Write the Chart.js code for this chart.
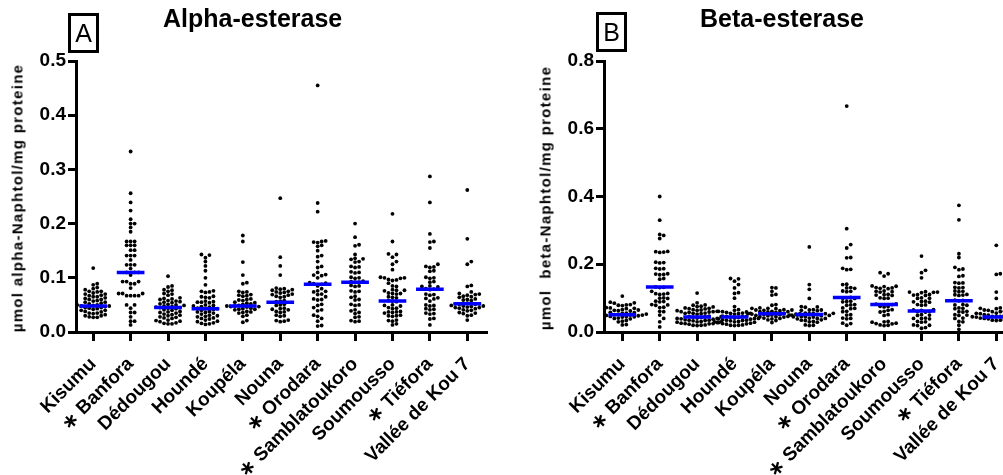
<!DOCTYPE html>
<html>
<head>
<meta charset="utf-8">
<script src="https://cdn.jsdelivr.net/npm/chart.js@4.4.1/dist/chart.umd.min.js"></script>
<style>
  body { margin: 0; background: #fff; overflow: hidden; width: 1003px; height: 475px; position: relative;
         font-family: 'Liberation Sans', Arial, Helvetica, sans-serif; color: #000; }
  .panel { position: absolute; top: 0; height: 475px; overflow: hidden; }
  .title { position: absolute; top: 6px; font-weight: bold; font-size: 25px; line-height: 25px; white-space: nowrap; }
  .tag { position: absolute; box-sizing: border-box; width: 31px; height: 40px; border: 3px solid #000;
         font-size: 25px; line-height: 34px; text-align: center; }
  .ytitle { position: absolute; transform: translate(-50%, -50%) rotate(-90deg); white-space: pre;
            font-weight: bold; font-size: 15px; letter-spacing: 1.3px; }
</style>
</head>
<body>
<div class="panel" style="left:0;width:500px"><canvas id="alpha" width="500" height="475"></canvas></div>
<div class="panel" style="left:500px;width:503px"><canvas id="beta" width="540" height="475"></canvas></div>
<div class="title" style="left:163px">Alpha-esterase</div>
<div class="title" style="left:700px">Beta-esterase</div>
<div class="tag" style="left:68px;top:13px">A</div>
<div class="tag" style="left:596px;top:12px">B</div>
<div class="ytitle" style="left:17px;top:198px">µmol alpha-Naphtol/mg proteine</div>
<div class="ytitle" style="left:545px;top:198px">µmol  beta-Naphtol/mg proteine</div>
<script>
// categories (asterisk = significant vs Kisumu)
const categories = ['Kisumu', '∗ Banfora', 'Dédougou', 'Houndé', 'Koupéla', 'Nouna',
  '∗ Orodara', '∗ Samblatoukoro', 'Soumousso', '∗ Tiéfora', 'Vallée de Kou 7'];

// median lines
const alphaMedians = [0.048, 0.110, 0.045, 0.043, 0.048, 0.055, 0.088, 0.092, 0.057, 0.079, 0.052];
const betaMedians = [0.051, 0.133, 0.044, 0.044, 0.054, 0.052, 0.102, 0.081, 0.062, 0.092, 0.044];

// Alpha-esterase, one array per population
const alphaKisumu = [0.118,0.089,0.087,0.082,0.080,0.078,0.075,0.075,0.074,0.072,0.070,0.070,0.068,0.067,0.065,0.065,0.063,0.062,0.060,0.060,0.058,0.057,0.055,0.055,0.053,0.052,0.050,0.050,0.049,0.048,0.048,0.047,0.045,0.045,0.044,0.043,0.042,0.040,0.040,0.038,0.037,0.035,0.035,0.034,0.032,0.030,0.030,0.028,0.027,0.027];
const alphaBanfora = [0.333,0.256,0.239,0.224,0.208,0.200,0.200,0.193,0.185,0.167,0.167,0.167,0.160,0.160,0.160,0.151,0.151,0.141,0.141,0.141,0.133,0.124,0.124,0.124,0.117,0.110,0.110,0.110,0.105,0.093,0.093,0.093,0.089,0.089,0.081,0.071,0.071,0.071,0.067,0.067,0.067,0.067,0.050,0.050,0.044,0.036,0.036,0.028,0.020,0.020,0.013];
const alphaDedougou = [0.103,0.085,0.083,0.078,0.077,0.075,0.071,0.070,0.068,0.063,0.062,0.061,0.060,0.058,0.057,0.056,0.055,0.054,0.052,0.051,0.050,0.049,0.048,0.047,0.046,0.045,0.045,0.044,0.043,0.041,0.040,0.038,0.037,0.036,0.035,0.033,0.032,0.031,0.030,0.028,0.027,0.026,0.025,0.022,0.021,0.020,0.019,0.017,0.016,0.015,0.015];
const alphaHounde = [0.143,0.142,0.137,0.130,0.122,0.113,0.100,0.087,0.076,0.075,0.074,0.073,0.066,0.065,0.064,0.063,0.057,0.056,0.055,0.055,0.054,0.050,0.049,0.048,0.047,0.046,0.044,0.043,0.043,0.042,0.040,0.038,0.037,0.036,0.035,0.033,0.031,0.030,0.029,0.028,0.026,0.025,0.024,0.022,0.020,0.019,0.017,0.016,0.015,0.014];
const alphaKoupela = [0.178,0.167,0.129,0.105,0.091,0.089,0.075,0.074,0.073,0.069,0.068,0.067,0.066,0.061,0.060,0.059,0.058,0.055,0.054,0.053,0.052,0.051,0.049,0.048,0.048,0.047,0.047,0.046,0.044,0.043,0.042,0.042,0.041,0.038,0.037,0.036,0.035,0.031,0.029,0.021,0.018];
const alphaNouna = [0.247,0.138,0.122,0.105,0.081,0.080,0.079,0.078,0.077,0.075,0.074,0.073,0.072,0.070,0.069,0.068,0.066,0.065,0.064,0.058,0.057,0.056,0.051,0.050,0.049,0.044,0.043,0.042,0.041,0.038,0.037,0.036,0.031,0.030,0.029,0.022,0.021,0.020,0.019];
const alphaOrodara = [0.455,0.238,0.222,0.168,0.167,0.166,0.165,0.160,0.158,0.150,0.141,0.139,0.130,0.121,0.119,0.110,0.106,0.105,0.104,0.100,0.091,0.090,0.089,0.088,0.085,0.080,0.076,0.075,0.074,0.070,0.069,0.065,0.061,0.060,0.059,0.051,0.049,0.045,0.041,0.039,0.031,0.029,0.025,0.020,0.012,0.011];
const alphaSambla = [0.200,0.175,0.161,0.159,0.143,0.136,0.135,0.134,0.130,0.129,0.121,0.120,0.119,0.111,0.110,0.109,0.101,0.100,0.099,0.094,0.093,0.092,0.092,0.086,0.085,0.084,0.076,0.075,0.074,0.066,0.064,0.060,0.059,0.051,0.050,0.049,0.041,0.039,0.036,0.034,0.028,0.027,0.021,0.020,0.019];
const alphaSoumousso = [0.218,0.167,0.144,0.143,0.138,0.130,0.125,0.115,0.101,0.100,0.100,0.099,0.097,0.096,0.095,0.090,0.085,0.084,0.078,0.077,0.077,0.076,0.072,0.071,0.071,0.070,0.065,0.064,0.063,0.058,0.057,0.056,0.050,0.049,0.048,0.045,0.044,0.043,0.038,0.037,0.037,0.036,0.035,0.031,0.030,0.030,0.029,0.022,0.021,0.020,0.015,0.013];
const alphaTiefora = [0.287,0.239,0.181,0.167,0.166,0.155,0.125,0.121,0.120,0.119,0.113,0.112,0.101,0.100,0.099,0.093,0.092,0.085,0.084,0.083,0.080,0.079,0.078,0.070,0.069,0.068,0.063,0.062,0.061,0.057,0.050,0.049,0.048,0.043,0.042,0.041,0.035,0.034,0.033,0.025,0.024,0.013];
const alphaVallee = [0.262,0.172,0.130,0.125,0.086,0.084,0.074,0.071,0.070,0.069,0.068,0.066,0.065,0.064,0.061,0.060,0.059,0.058,0.053,0.052,0.052,0.051,0.051,0.049,0.048,0.048,0.047,0.046,0.045,0.045,0.044,0.043,0.041,0.040,0.039,0.036,0.035,0.034,0.031,0.030,0.022];

// Beta-esterase
const betaKisumu = [0.106,0.088,0.086,0.085,0.081,0.080,0.079,0.078,0.072,0.071,0.070,0.069,0.066,0.065,0.064,0.063,0.062,0.058,0.057,0.056,0.055,0.054,0.053,0.052,0.052,0.051,0.050,0.050,0.049,0.048,0.046,0.045,0.045,0.044,0.041,0.040,0.039,0.034,0.032,0.030,0.022,0.021];
const betaBanfora = [0.400,0.330,0.288,0.285,0.276,0.238,0.237,0.236,0.235,0.206,0.205,0.204,0.188,0.187,0.186,0.172,0.171,0.170,0.169,0.158,0.156,0.133,0.132,0.131,0.120,0.114,0.113,0.112,0.111,0.101,0.100,0.099,0.091,0.090,0.089,0.081,0.080,0.079,0.073,0.072,0.061,0.060,0.050,0.040,0.030,0.015];
const betaDedougou = [0.115,0.086,0.080,0.079,0.076,0.075,0.074,0.071,0.070,0.069,0.068,0.066,0.065,0.064,0.063,0.061,0.060,0.060,0.059,0.058,0.056,0.055,0.055,0.054,0.053,0.047,0.046,0.045,0.045,0.044,0.043,0.041,0.040,0.040,0.039,0.038,0.036,0.035,0.035,0.034,0.033,0.031,0.030,0.030,0.029,0.028,0.026,0.025,0.025,0.024,0.023,0.021,0.020,0.020,0.019];
const betaHounde = [0.158,0.157,0.150,0.140,0.130,0.116,0.114,0.100,0.075,0.066,0.064,0.061,0.060,0.059,0.058,0.056,0.055,0.055,0.054,0.053,0.047,0.046,0.046,0.045,0.044,0.043,0.041,0.040,0.040,0.039,0.038,0.036,0.035,0.035,0.034,0.033,0.031,0.030,0.030,0.029,0.028,0.026,0.025,0.024,0.023,0.021,0.020,0.020,0.019];
const betaKoupela = [0.131,0.130,0.120,0.111,0.109,0.081,0.079,0.071,0.070,0.070,0.069,0.066,0.065,0.065,0.064,0.063,0.061,0.060,0.060,0.059,0.058,0.055,0.054,0.054,0.053,0.053,0.052,0.051,0.050,0.050,0.049,0.048,0.046,0.045,0.045,0.044,0.041,0.040,0.039,0.036,0.034,0.028];
const betaNouna = [0.251,0.140,0.126,0.099,0.075,0.074,0.073,0.066,0.065,0.065,0.064,0.063,0.056,0.055,0.055,0.054,0.054,0.051,0.050,0.050,0.049,0.048,0.046,0.045,0.045,0.044,0.041,0.040,0.040,0.039,0.036,0.035,0.034,0.031,0.030,0.029,0.021,0.020,0.019];
const betaOrodara = [0.667,0.305,0.258,0.248,0.220,0.219,0.188,0.185,0.184,0.141,0.140,0.131,0.130,0.129,0.121,0.120,0.119,0.102,0.101,0.100,0.099,0.091,0.090,0.089,0.081,0.080,0.079,0.071,0.070,0.069,0.061,0.060,0.051,0.050,0.041,0.040,0.039,0.026,0.025,0.020];
const betaSambla = [0.175,0.172,0.165,0.136,0.135,0.134,0.131,0.130,0.129,0.128,0.121,0.120,0.119,0.118,0.111,0.110,0.109,0.108,0.101,0.100,0.099,0.083,0.082,0.081,0.076,0.075,0.074,0.066,0.064,0.061,0.059,0.051,0.049,0.031,0.030,0.029,0.026,0.025,0.024,0.021,0.020,0.019];
const betaSoumousso = [0.224,0.182,0.175,0.160,0.119,0.118,0.118,0.117,0.116,0.111,0.110,0.109,0.108,0.101,0.100,0.099,0.091,0.090,0.089,0.088,0.081,0.080,0.079,0.066,0.065,0.064,0.061,0.060,0.059,0.051,0.050,0.049,0.041,0.040,0.040,0.039,0.031,0.030,0.029,0.021,0.020,0.019,0.013,0.011];
const betaTiefora = [0.374,0.331,0.231,0.220,0.191,0.186,0.184,0.166,0.164,0.146,0.145,0.144,0.132,0.131,0.130,0.121,0.120,0.119,0.111,0.110,0.109,0.108,0.094,0.093,0.092,0.081,0.080,0.079,0.071,0.070,0.069,0.061,0.060,0.059,0.051,0.050,0.049,0.041,0.040,0.031,0.030,0.020,0.008];
const betaVallee = [0.256,0.172,0.170,0.118,0.099,0.071,0.070,0.069,0.066,0.065,0.065,0.064,0.061,0.060,0.060,0.056,0.055,0.055,0.054,0.054,0.051,0.050,0.050,0.049,0.049,0.046,0.046,0.045,0.045,0.045,0.044,0.044,0.041,0.040,0.040,0.039,0.039,0.036,0.035,0.035,0.034];

const alphaGroups = [alphaKisumu, alphaBanfora, alphaDedougou, alphaHounde, alphaKoupela, alphaNouna,
  alphaOrodara, alphaSambla, alphaSoumousso, alphaTiefora, alphaVallee];
const betaGroups = [betaKisumu, betaBanfora, betaDedougou, betaHounde, betaKoupela, betaNouna,
  betaOrodara, betaSambla, betaSoumousso, betaTiefora, betaVallee];

Chart.defaults.font.family = "'Liberation Sans', Arial, Helvetica, sans-serif";
Chart.defaults.color = '#000';

// spread the dots of each column sideways so they don't overlap (column scatter / beeswarm)
function swarm(chart, groups) {
  const xs = chart.scales.x, ys = chart.scales.y;
  const unit = xs.getPixelForValue(1) - xs.getPixelForValue(0);
  const gap = 4;
  const pts = [];
  groups.forEach((vals, i) => {
    const placed = [];
    [...vals].sort((a, b) => a - b).forEach(v => {
      const py = ys.getPixelForValue(v);
      let off = 0;
      for (let n = 0; n < 40; n++) {
        off = n === 0 ? 0 : (n % 2 ? 1 : -1) * Math.ceil(n / 2) * gap;
        if (placed.every(p => Math.hypot(p.x - off, p.y - py) >= gap - 0.3)) break;
      }
      placed.push({ x: off, y: py });
      pts.push({ x: i + off / unit, y: v });
    });
  });
  chart.data.datasets[1].data = pts;
  chart.update('none');
}

function buildPanel(id, groups, medians, yMax, yStep, pad, xMin) {
  const medianData = [];
  medians.forEach((m, i) => {
    medianData.push({ x: i - 0.37, y: m }, { x: i + 0.37, y: m }, { x: i + 0.5, y: null });
  });
  const chart = new Chart(document.getElementById(id), {
    type: 'scatter',
    data: {
      datasets: [
        { type: 'line', data: medianData, borderColor: '#0000ff', borderWidth: 3.5, borderCapStyle: 'butt',
          pointRadius: 0, spanGaps: false, order: 0 },
        { data: groups.flatMap((g, i) => g.map(v => ({ x: i, y: v }))), backgroundColor: '#000',
          borderWidth: 0, pointRadius: 1.9, order: 1 }
      ]
    },
    options: {
      responsive: false,
      animation: false,
      layout: { padding: pad },
      plugins: { legend: { display: false }, tooltip: { enabled: false } },
      scales: {
        x: {
          type: 'linear', min: xMin, max: 10.5,
          afterBuildTicks: ax => { ax.ticks = categories.map((c, i) => ({ value: i })); },
          afterFit: ax => { ax.height = 143; },
          ticks: { autoSkip: false, minRotation: 45, maxRotation: 45, padding: 12,
                   font: { size: 19, weight: 'bold' }, callback: v => categories[v] },
          grid: { drawOnChartArea: false, tickLength: 9, lineWidth: 3, color: '#000' },
          border: { width: 3, color: '#000' }
        },
        y: {
          min: 0, max: yMax,
          afterFit: ax => { ax.width = 76; },
          ticks: { stepSize: yStep, padding: 2, font: { size: 19, weight: 'bold' }, callback: v => v.toFixed(1) },
          grid: { drawOnChartArea: false, tickLength: 8, lineWidth: 3, color: '#000' },
          border: { width: 3, color: '#000' }
        }
      }
    }
  });
  swarm(chart, groups);
  return chart;
}

buildPanel('alpha', alphaGroups, alphaMedians, 0.5, 0.1, { top: 61, left: 0, right: 14, bottom: 0 }, -0.46);
buildPanel('beta', betaGroups, betaMedians, 0.8, 0.2, { top: 61, left: 28, right: 25, bottom: 0 }, -0.49);
</script>
</body>
</html>
